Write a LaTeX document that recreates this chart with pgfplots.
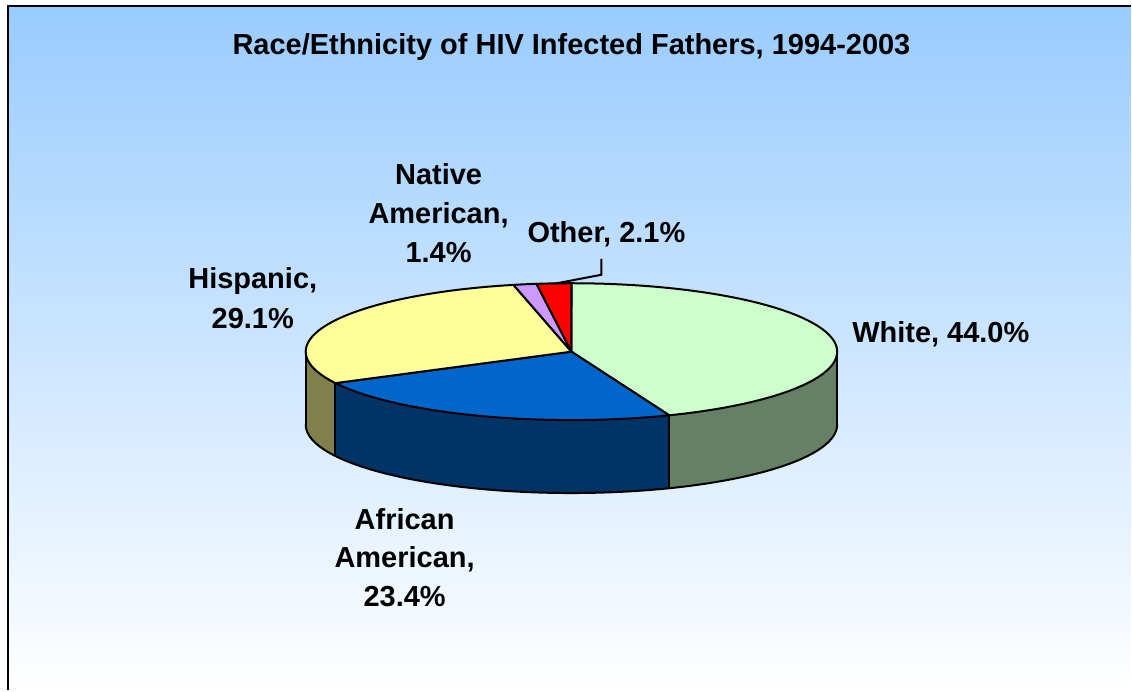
\documentclass[border=0pt]{standalone}
\usepackage{fontspec}
\setmainfont{Liberation Sans}
\usepackage{pgfplots}
\pgfplotsset{compat=1.18}
\definecolor{bgtop}{RGB}{153,204,255}
\definecolor{cWhite}{RGB}{204,255,204}
\definecolor{cWhiteS}{RGB}{102,128,102}
\definecolor{cAA}{RGB}{0,102,204}
\definecolor{cAAS}{RGB}{0,51,102}
\definecolor{cHis}{RGB}{255,255,153}
\definecolor{cHisS}{RGB}{128,128,77}
\definecolor{cNat}{RGB}{204,153,255}
\definecolor{cOth}{RGB}{255,0,0}
% ---- data (percent) ----
\def\vWhite{44.0}
\def\vAA{23.4}
\def\vHis{29.1}
\def\vNat{1.4}
\def\vOth{2.1}
% ---- pie geometry (pixel units) ----
\def\PCx{572}\def\PCy{352}\def\PRx{266}\def\PRy{68.5}\def\PDep{73}
\pgfmathsetmacro\aA{90}
\pgfmathsetmacro\aB{\aA-3.6*\vWhite}
\pgfmathsetmacro\aC{\aB-3.6*\vAA}
\pgfmathsetmacro\aD{\aC-3.6*\vHis}
\pgfmathsetmacro\aE{\aD-3.6*\vNat}
\pgfmathsetmacro\aF{\aE-3.6*\vOth}
\pgfmathsetmacro\sB{\aB+360}
\pgfmathsetmacro\sC{\aC+360}
\pgfmathsetmacro\xB{\PCx+\PRx*cos(\sB)}
\pgfmathsetmacro\yB{\PCy-\PRy*sin(\sB)}
\pgfmathsetmacro\yBb{\yB+\PDep}
\pgfmathsetmacro\xC{\PCx+\PRx*cos(\sC)}
\pgfmathsetmacro\yC{\PCy-\PRy*sin(\sC)}
\pgfmathsetmacro\yCb{\yC+\PDep}
\pgfmathsetmacro\xL{\PCx-\PRx}
\pgfmathsetmacro\xR{\PCx+\PRx}
\pgfmathsetmacro\yLb{\PCy+\PDep}
\newcommand\lbl{\fontsize{14.5}{19.5}\selectfont\bfseries}
% side wall of the pie between angles #2 and #3 (front half)
\newcommand\sidewall[3]{%
  \addplot[fill=#1, draw=none, samples at={0,...,40,40.001,41,...,80}, variable=\t]
  ({\PCx+\PRx*cos(ifthenelse(\t<=40,#2+(#3-#2)*\t/40,#3-(#3-#2)*(\t-40)/40))},
   {\PCy-\PRy*sin(ifthenelse(\t<=40,#2+(#3-#2)*\t/40,#3-(#3-#2)*(\t-40)/40))+ifthenelse(\t<=40,0,\PDep)}) -- cycle;}
\begin{document}
\begin{tikzpicture}
\begin{axis}[scale only axis, width=566pt, height=345.5pt,
  xmin=0, xmax=1132, ymin=0, ymax=691, y dir=reverse,
  hide axis, clip=false]
\fill[white] (axis cs:0,0) rectangle (axis cs:1132,691);
\fill[top color=bgtop, bottom color=white] (axis cs:8,6) rectangle (axis cs:1132,691);
\draw[line width=1.1pt] (axis cs:8,691) -- (axis cs:8,6) -- (axis cs:1132,6);
% ---- side walls ----
\sidewall{cHisS}{180}{\sC}
\sidewall{cAAS}{\sC}{\sB}
\sidewall{cWhiteS}{\sB}{360}
\addplot[black, line width=1pt, domain=180:360, samples=120, variable=\t] ({\PCx+\PRx*cos(\t)},{\PCy+\PDep-\PRy*sin(\t)});
\draw[line width=1pt] (axis cs:\xL,\PCy) -- (axis cs:\xL,\yLb);
\draw[line width=1pt] (axis cs:\xR,\PCy) -- (axis cs:\xR,\yLb);
\draw[line width=1pt] (axis cs:\xB,\yB) -- (axis cs:\xB,\yBb);
\draw[line width=1pt] (axis cs:\xC,\yC) -- (axis cs:\xC,\yCb);
% ---- top wedges ----
\addplot[fill=cWhite, draw=black, line width=1pt, line join=round, domain=\aB:\aA, samples=90, variable=\t] ({\PCx+\PRx*cos(\t)},{\PCy-\PRy*sin(\t)}) -- (axis cs:\PCx,\PCy) -- cycle;
\addplot[fill=cAA, draw=black, line width=1pt, line join=round, domain=\aC:\aB, samples=60, variable=\t] ({\PCx+\PRx*cos(\t)},{\PCy-\PRy*sin(\t)}) -- (axis cs:\PCx,\PCy) -- cycle;
\addplot[fill=cHis, draw=black, line width=1pt, line join=round, domain=\aD:\aC, samples=70, variable=\t] ({\PCx+\PRx*cos(\t)},{\PCy-\PRy*sin(\t)}) -- (axis cs:\PCx,\PCy) -- cycle;
\addplot[fill=cNat, draw=black, line width=1pt, line join=round, domain=\aE:\aD, samples=8, variable=\t] ({\PCx+\PRx*cos(\t)},{\PCy-\PRy*sin(\t)}) -- (axis cs:\PCx,\PCy) -- cycle;
\addplot[fill=cOth, draw=black, line width=1pt, line join=round, domain=\aF:\aE, samples=10, variable=\t] ({\PCx+\PRx*cos(\t)},{\PCy-\PRy*sin(\t)}) -- (axis cs:\PCx,\PCy) -- cycle;
% ---- texts ----
\node[anchor=base, font=\lbl] at (axis cs:572,55) {Race/Ethnicity of HIV Infected Fathers, 1994-2003};
\node[anchor=base west, font=\lbl] at (axis cs:846,343) {White, 44.0\%};
\node[anchor=base, font=\lbl] at (axis cs:439,185) {Native};
\node[anchor=base, font=\lbl] at (axis cs:439,224) {American,};
\node[anchor=base, font=\lbl] at (axis cs:439,263) {1.4\%};
\node[anchor=base, font=\lbl] at (axis cs:253,289) {Hispanic,};
\node[anchor=base, font=\lbl] at (axis cs:253,329) {29.1\%};
\node[anchor=base, font=\lbl] at (axis cs:405,530) {African};
\node[anchor=base, font=\lbl] at (axis cs:405,568) {American,};
\node[anchor=base, font=\lbl] at (axis cs:405,607) {23.4\%};
\node[anchor=base west, font=\lbl] at (axis cs:521,243) {Other, 2.1\%};
\draw[line width=1pt] (axis cs:602,259) -- (axis cs:602,275) -- (axis cs:555,284);
\end{axis}
\end{tikzpicture}
\end{document}
